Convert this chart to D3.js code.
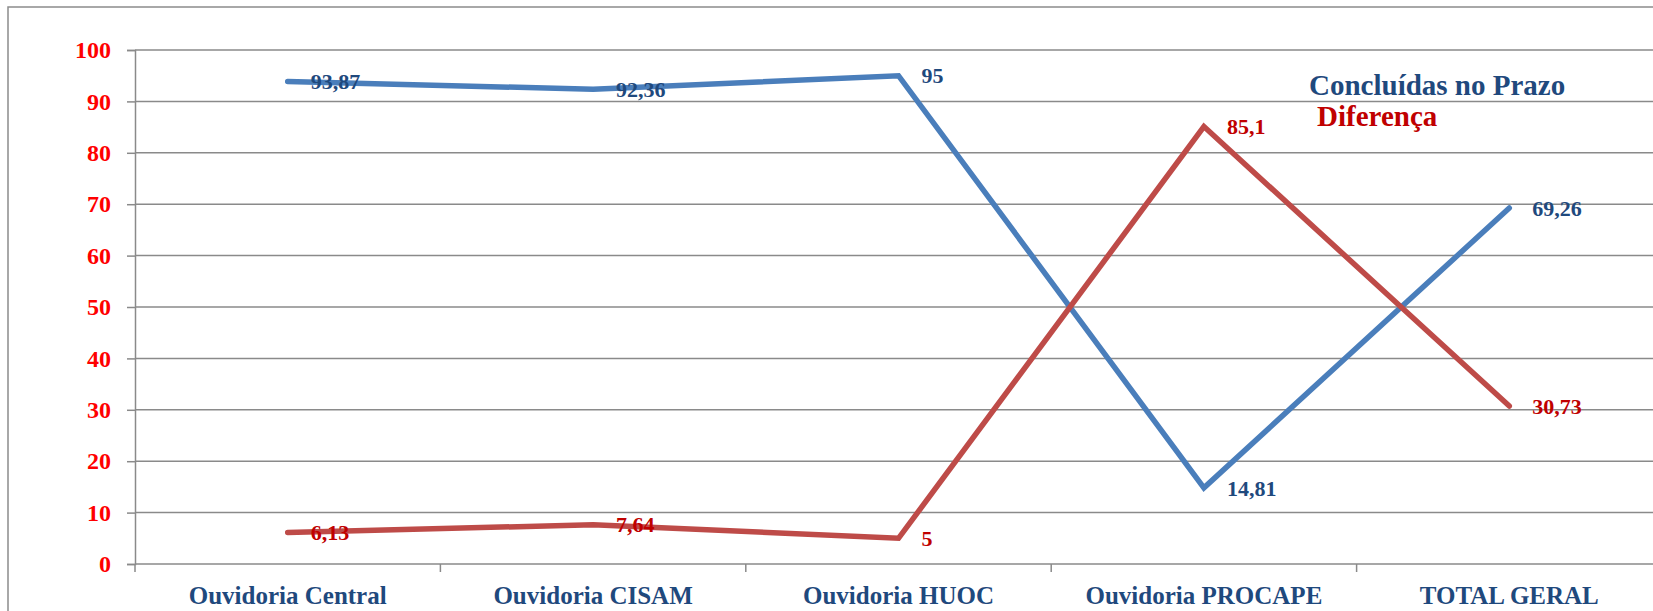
<!DOCTYPE html>
<html>
<head>
<meta charset="utf-8">
<script src="https://cdn.jsdelivr.net/npm/d3@7"></script>
<style>
  body { margin: 0; background: #fff; }
  .chart text { font-family: "Liberation Serif", "Times New Roman", serif; font-weight: bold; }
</style>
</head>
<body>
<div class="chart"></div>
<script>
// data
const categories = ["Ouvidoria Central", "Ouvidoria CISAM", "Ouvidoria HUOC", "Ouvidoria PROCAPE", "TOTAL GERAL"];
const concluidas = [93.87, 92.36, 95, 14.81, 69.26];
const diferenca = [6.13, 7.64, 5, 85.1, 30.73];
const seriesNames = ["Concluídas no Prazo", "Diferença"];
const yTicks = [0, 10, 20, 30, 40, 50, 60, 70, 80, 90, 100];

const W = 1653, H = 611;
const margin = {top: 50, left: 135, bottom: 564};

const svg = d3.select(".chart").append("svg")
    .attr("width", W)
    .attr("height", H);

// outer chart border (only left/top visible, rest is cut off)
svg.append("rect")
    .attr("x", 8).attr("y", 7)
    .attr("width", W + 20).attr("height", H + 20)
    .attr("fill", "none")
    .attr("stroke", "#8c8c8c")
    .attr("stroke-width", 1.5);

const xScale = d3.scaleBand()
    .domain(categories)
    .range([margin.left, 1662]);

const yScale = d3.scaleLinear()
    .domain([0, 100])
    .range([margin.bottom, margin.top]);

const cx = c => xScale(c) + xScale.bandwidth() / 2;

// gridlines
svg.append("g")
    .selectAll("line")
    .data(yTicks)
    .enter()
    .append("line")
        .attr("x1", margin.left)
        .attr("x2", 1662)
        .attr("y1", d => yScale(d))
        .attr("y2", d => yScale(d))
        .attr("stroke", "#8a8a8a")
        .attr("stroke-width", 1.5);

// y axis
const yAxis = d3.axisLeft(yScale)
    .tickValues(yTicks)
    .tickSize(8)
    .tickPadding(16);
const gy = svg.append("g")
    .attr("transform", "translate(" + margin.left + ",0)")
    .call(yAxis);
gy.select(".domain").attr("stroke", "#8a8a8a").attr("stroke-width", 1.5);
gy.selectAll(".tick line").attr("stroke", "#8a8a8a").attr("stroke-width", 1.5);
gy.selectAll(".tick text")
    .attr("fill", "#ff0000")
    .style("font-size", "24px");

// x axis: labels centred, ticks on category boundaries
const xAxis = d3.axisBottom(xScale).tickSize(0).tickPadding(22);
const gx = svg.append("g")
    .attr("transform", "translate(0," + margin.bottom + ")")
    .call(xAxis);
gx.select(".domain").remove();
gx.selectAll(".tick text")
    .attr("fill", "#1f497d")
    .style("font-size", "25px");

const bounds = categories.map(c => xScale(c)).concat([xScale(categories[categories.length - 1]) + xScale.bandwidth()]);
svg.append("g")
    .selectAll("line")
    .data(bounds)
    .enter()
    .append("line")
        .attr("x1", d => d).attr("x2", d => d)
        .attr("y1", margin.bottom).attr("y2", margin.bottom + 8)
        .attr("stroke", "#8a8a8a")
        .attr("stroke-width", 1.5);

// lines
const series = [
    {name: seriesNames[0], values: concluidas, line: "#4a7ebb", label: "#1f497d"},
    {name: seriesNames[1], values: diferenca, line: "#be4b48", label: "#c00000"}
];

const line = d3.line()
    .x((d, i) => cx(categories[i]))
    .y(d => yScale(d));

series.forEach(s => {
    svg.append("path")
        .datum(s.values)
        .attr("d", line)
        .attr("fill", "none")
        .attr("stroke", s.line)
        .attr("stroke-width", 5.5)
        .attr("stroke-linejoin", "miter")
        .attr("stroke-linecap", "round");
});

// data labels (to the right of each point)
series.forEach(s => {
    svg.append("g")
        .selectAll("text")
        .data(s.values)
        .enter()
        .append("text")
            .attr("x", (d, i) => cx(categories[i]) + 23)
            .attr("y", d => yScale(d))
            .attr("dy", "0.35em")
            .attr("fill", s.label)
            .style("font-size", "22px")
            .text(d => String(d).replace(".", ","));
});

// legend
svg.append("text")
    .attr("x", 1309).attr("y", 95)
    .attr("fill", "#1f497d")
    .style("font-size", "29px")
    .text(seriesNames[0]);
svg.append("text")
    .attr("x", 1317).attr("y", 126)
    .attr("fill", "#c00000")
    .style("font-size", "29px")
    .text(seriesNames[1]);
</script>
</body>
</html>
